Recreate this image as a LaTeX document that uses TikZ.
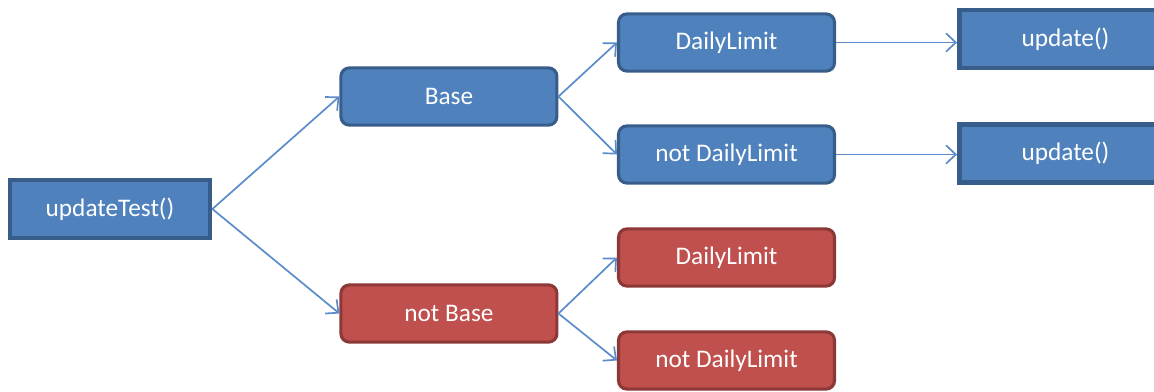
\documentclass[tikz,border=0pt]{standalone}
\usepackage{fontspec}
\setmainfont{Carlito}
\usetikzlibrary{positioning, arrows.meta}
\definecolor{boxblue}{HTML}{4F81BD}
\definecolor{edgeblue}{HTML}{385D8A}
\definecolor{boxred}{HTML}{C0504D}
\definecolor{edgered}{HTML}{8C3836}
\definecolor{linkblue}{HTML}{5B8BCB}

\begin{document}
\begin{tikzpicture}[
    font=\fontsize{18}{21}\selectfont,
    call/.style={draw=edgeblue, line width=3.4pt, fill=boxblue, text=white, minimum width=5.0cm, minimum height=1.45cm, align=center},
    pass/.style={draw=edgeblue, line width=2.2pt, rounded corners=6pt, fill=boxblue, text=white, minimum width=5.4cm, minimum height=1.43cm, align=center},
    fail/.style={draw=edgered, line width=2.2pt, rounded corners=6pt, fill=boxred, text=white, minimum width=5.4cm, minimum height=1.43cm, align=center},
    link/.style={draw=linkblue, line width=1.2pt, -{Straight Barb[length=7pt, width=13pt, line width=1.2pt]}}
]
\clip (0,0) rectangle (28.85,9.775);

% Nodes
\node[call] (root) at (2.75,4.55) {updateTest()};
\node[pass, right=3.175cm of root, yshift=2.8125cm] (base) {Base};
\node[fail, right=3.175cm of root, yshift=-2.6125cm] (nobase) {not Base};
\node[pass, right=1.4625cm of base, yshift=1.35cm] (daily) {DailyLimit};
\node[pass, right=1.4625cm of base, yshift=-1.45cm] (nodaily) {not DailyLimit};
\node[fail, right=1.4625cm of nobase, yshift=1.4cm] (dailyb) {DailyLimit};
\node[fail, right=1.4625cm of nobase, yshift=-1.175cm] (nodailyb) {not DailyLimit};
\node[call, minimum width=5.3cm, right=3.025cm of daily, yshift=0.0875cm] (upd) {update()};
\node[call, minimum width=5.3cm, right=3.025cm of nodaily, yshift=0.025cm] (updb) {update()};

% Edges
\draw[link] (root.east) -- (base.west);
\draw[link] (root.east) -- (nobase.west);
\draw[link] (base.east) -- (daily.west);
\draw[link] (base.east) -- (nodaily.west);
\draw[link] (nobase.east) -- (dailyb.west);
\draw[link] (nobase.east) -- (nodailyb.west);
\draw[link] (daily.east) -- (daily.east -| upd.west);
\draw[link] (nodaily.east) -- (nodaily.east -| updb.west);

\end{tikzpicture}
\end{document}
